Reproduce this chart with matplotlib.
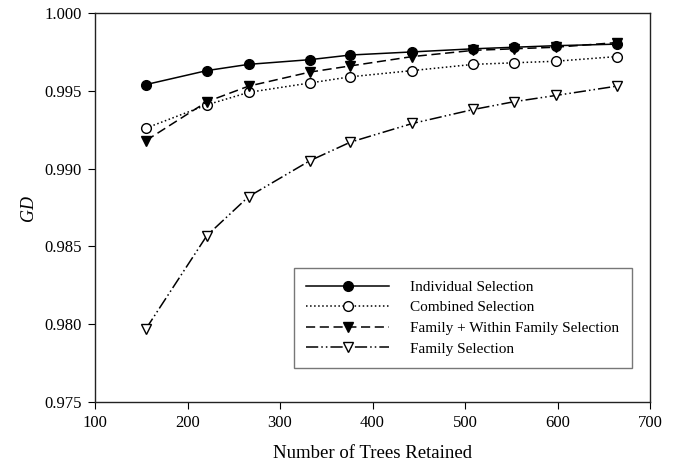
import matplotlib
matplotlib.use("Agg")
import matplotlib.pyplot as plt

trees = [155, 221, 266, 332, 376, 443, 509, 553, 598, 664]
individual = [0.9954, 0.9963, 0.9967, 0.9970, 0.9973, 0.9975, 0.9977, 0.9978, 0.9979, 0.9980]
combined = [0.9926, 0.9941, 0.9949, 0.9955, 0.9959, 0.9963, 0.9967, 0.9968, 0.9969, 0.9972]
fam_within = [0.9918, 0.9943, 0.9953, 0.9962, 0.9966, 0.9972, 0.9976, 0.9977, 0.9978, 0.9981]
family = [0.9797, 0.9857, 0.9882, 0.9905, 0.9917, 0.9929, 0.9938, 0.9943, 0.9947, 0.9953]

plt.rcParams['font.family'] = ['Liberation Serif', 'DejaVu Serif']

fig = plt.figure(figsize=(6.73, 4.68), dpi=100)
ax = fig.add_axes([0.1412, 0.141, 0.8247, 0.8312])

ax.plot(trees, individual, color='black', ls='-', lw=1.1, marker='o', ms=7,
        mfc='black', label='Individual Selection')
ax.plot(trees, combined, color='black', ls=':', lw=1.1, marker='o', ms=7,
        mfc='white', label='Combined Selection')
ax.plot(trees, fam_within, color='black', ls=(0, (6, 3)), lw=1.1, marker='v', ms=7.5,
        mfc='black', label='Family + Within Family Selection')
ax.plot(trees, family, color='black', ls=(0, (8, 2, 1, 2, 1, 2)), lw=1.1, marker='v', ms=7.5,
        mfc='white', label='Family Selection')

ax.set_xlim(100, 700)
ax.set_ylim(0.975, 1.000)
ax.set_xticks(range(100, 701, 100))
ax.set_yticks([0.975, 0.980, 0.985, 0.990, 0.995, 1.000])
ax.set_yticklabels(['0.975', '0.980', '0.985', '0.990', '0.995', '1.000'])
ax.tick_params(direction='out', length=5, labelsize=12, top=False, right=False, pad=4.5)

ax.set_xlabel('Number of Trees Retained', fontsize=13.5, labelpad=10)
ax.set_ylabel('GD', fontsize=13, style='italic', labelpad=5)

for s in ax.spines.values():
    s.set_linewidth(1.0)
    s.set_color('#222222')

leg = ax.legend(loc='upper left', bbox_to_anchor=(0.3586, 0.3445), bbox_transform=ax.transAxes,
                borderaxespad=0, fontsize=11, frameon=True, fancybox=False,
                edgecolor='#555555', handlelength=5.4, borderpad=0.8,
                labelspacing=0.45, handletextpad=1.4)
leg.get_frame().set_linewidth(1.0)

fig.savefig('out.png', dpi=100)
